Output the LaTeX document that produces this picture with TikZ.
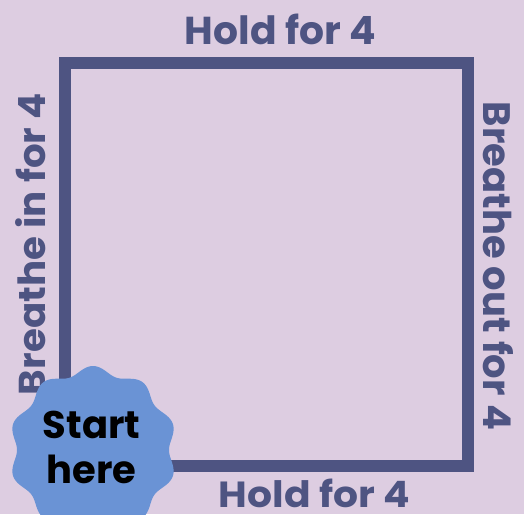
\documentclass[tikz,border=0pt]{standalone}
\usepackage{fontspec}
\setmainfont{Poppins}
\usepackage{graphicx}
\definecolor{bgc}{HTML}{DDCDE1}
\definecolor{sqc}{HTML}{4E5482}
\definecolor{blobc}{HTML}{6A93D5}
\tikzset{
  side/.style={text=sqc, font=\bfseries, inner sep=0pt, anchor=base},
}
\begin{document}
\begin{tikzpicture}[x=1pt,y=-1pt]
\fill[bgc] (0,0) rectangle (524,514);
\useasboundingbox (0,0) rectangle (524,514);
\clip (0,0) rectangle (524,514);
\draw[sqc, line width=12.5pt] (65,63) rectangle (468,466);
\node[side] (top) at (280.5,45) {\resizebox{191pt}{30.5pt}{Hold for 4}};
\node[side] (bottom) at (314.5,507) {\resizebox{191pt}{28.5pt}{Hold for 4}};
\node[side, rotate=90] (left) at (45,244) {\resizebox{302pt}{30pt}{Breathe in for 4}};
\node[side, rotate=-90] (right) at (483,266) {\resizebox{328pt}{30pt}{Breathe out for 4}};
\fill[blobc] plot[domain=0:360, samples=361, smooth] ({93 + (80 + 4*cos(10*(\x-90)))*cos(\x)}, {450 - (80 + 4*cos(10*(\x-90)))*sin(\x)}) -- cycle;
\node[font=\bfseries\fontsize{38.5}{45}\selectfont, align=center, inner sep=0pt] (start) at (91.5,447) {Start\\here};
\end{tikzpicture}
\end{document}
